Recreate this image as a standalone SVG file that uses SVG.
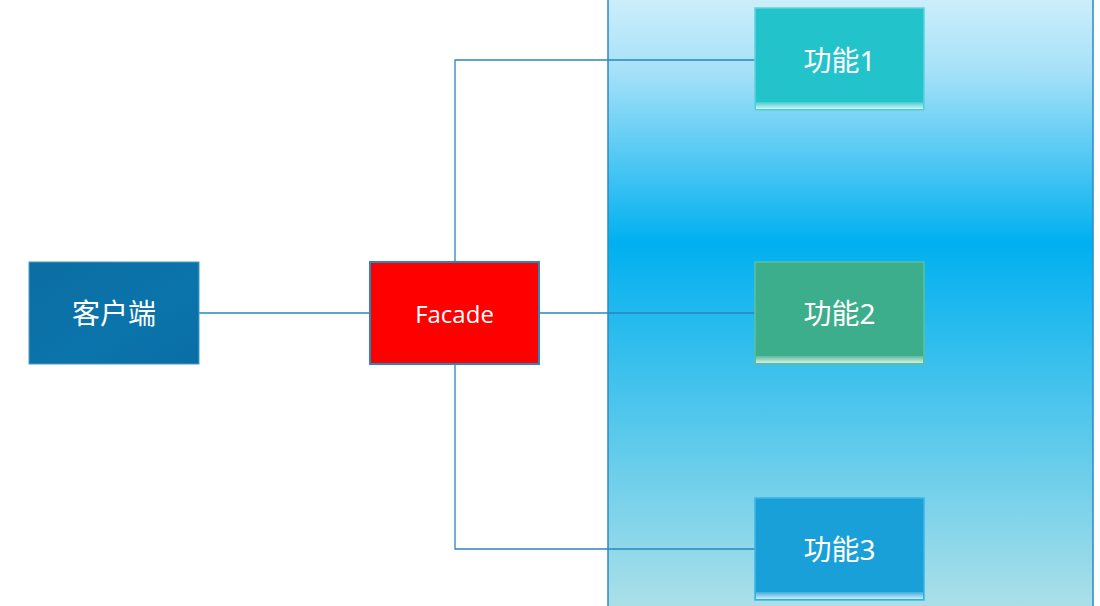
<svg xmlns="http://www.w3.org/2000/svg" width="1100" height="606" viewBox="0 0 1100 606">
<defs>
<linearGradient id="panel" x1="0" y1="0" x2="0" y2="1">
<stop offset="0" stop-color="#cdeefb"/>
<stop offset="0.12" stop-color="#a6e1f8"/>
<stop offset="0.4" stop-color="#00b0f0"/>
<stop offset="1" stop-color="#ade0e8"/>
</linearGradient>
<linearGradient id="gloss" x1="0" y1="0" x2="0" y2="1">
<stop offset="0" stop-color="#ffffff" stop-opacity="0.15"/>
<stop offset="1" stop-color="#ffffff" stop-opacity="0.8"/>
</linearGradient>
<linearGradient id="client" x1="0" y1="0" x2="1" y2="1">
<stop offset="0" stop-color="#0c6ea3"/>
<stop offset="0.6" stop-color="#0a74ab"/>
<stop offset="1" stop-color="#0a6ea6"/>
</linearGradient>
<style>
.lbl{fill:#ffffff;font-family:"Noto Sans","Noto Sans CJK SC",sans-serif;font-size:28px;text-anchor:middle;dominant-baseline:central}
.fac{fill:#ffffff;font-family:"Open Sans","Noto Sans",sans-serif;font-size:24px;font-weight:500;text-anchor:middle;dominant-baseline:central}
.conn{fill:none;stroke:#2a86bd;stroke-width:1.3}
</style>
</defs>
<rect x="608" y="-2" width="485" height="612" fill="url(#panel)" stroke="#2a8ac4" stroke-width="1.5"/>
<g id="connectors">
<path class="conn" d="M199,313 H370"/>
<path class="conn" d="M539,313 H755"/>
<path class="conn" d="M455,262 V60 H755"/>
<path class="conn" d="M455,364 V549 H755"/>
</g>
<g id="client">
<rect x="29" y="262" width="170" height="102" fill="url(#client)" stroke="#4a9cc8" stroke-width="1"/>
<text class="lbl" x="114" y="313">客户端</text>
</g>
<g id="facade">
<rect x="370" y="262" width="169" height="102" fill="#ff0000" stroke="#2a86bd" stroke-width="2"/>
<text class="fac" x="454.5" y="313">Facade</text>
</g>
<g id="func1">
<rect x="755" y="8" width="169" height="102" fill="#23c3cc" stroke="#5cd3db" stroke-width="1.5"/>
<rect x="756" y="102" width="167" height="7" fill="url(#gloss)"/>
<text class="lbl" x="839.5" y="60">功能1</text>
</g>
<g id="func2">
<rect x="755" y="262" width="169" height="102" fill="#3dae8b" stroke="#5dc0a0" stroke-width="1.5"/>
<rect x="756" y="356" width="167" height="7" fill="url(#gloss)"/>
<text class="lbl" x="839.5" y="313">功能2</text>
</g>
<g id="func3">
<rect x="755" y="498" width="169" height="102" fill="#1aa0d8" stroke="#3cb6e6" stroke-width="1.5"/>
<rect x="756" y="592" width="167" height="7" fill="url(#gloss)"/>
<text class="lbl" x="839.5" y="549">功能3</text>
</g>
</svg>
